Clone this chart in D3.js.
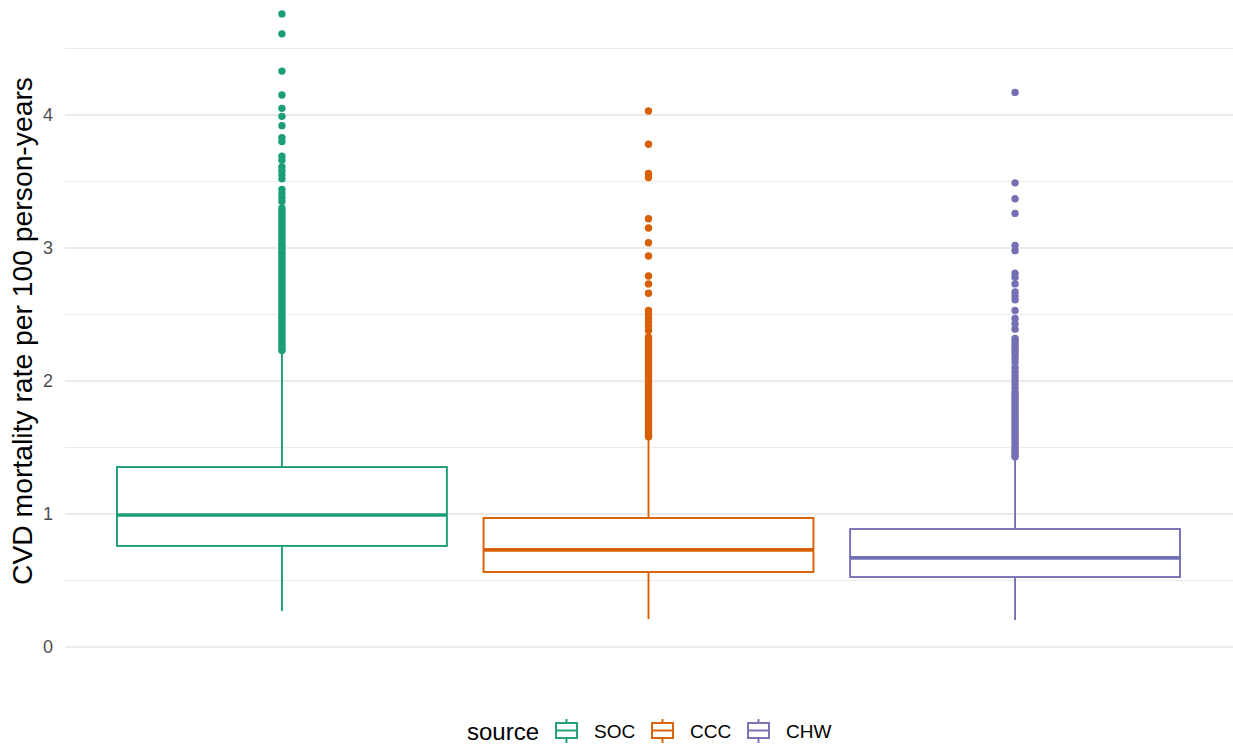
<!DOCTYPE html>
<html lang="en">
<head>
<meta charset="utf-8">
<title>CVD mortality by source</title>
<script src="https://cdn.jsdelivr.net/npm/d3@7"></script>
<style>
  body { margin: 0; background: #fff; }
  svg text { font-family: "Liberation Sans", Arial, sans-serif; }
</style>
</head>
<body>
<svg id="chart" width="1233" height="751"></svg>
<script>
// categories and box stats
var categories = ["SOC", "CCC", "CHW"];
var colors = ["#1B9E77", "#D95F02", "#7570B3"];
var whiskerLow = [0.27, 0.21, 0.203];
var q1 = [0.76, 0.564, 0.526];
var median = [0.992, 0.73, 0.67];
var q3 = [1.353, 0.97, 0.887];
var whiskerHigh = [2.23, 1.58, 1.43];
var yTicks = [0, 1, 2, 3, 4];
var yMinor = [0.5, 1.5, 2.5, 3.5, 4.5];

// outliers per source
var outSOC = [4.76, 4.61, 4.33, 4.15, 4.05, 3.99, 3.92, 3.83, 3.80, 3.69, 3.66, 3.61, 3.58, 3.55, 3.52,
  3.44, 3.41, 3.38, 3.35, 3.30, 3.28, 3.26, 3.24, 3.22, 3.20, 3.18, 3.16, 3.14, 3.12, 3.10, 3.08, 3.06,
  3.04, 3.02, 3.00, 2.98, 2.96, 2.94, 2.92, 2.90, 2.88, 2.86, 2.84, 2.82, 2.80, 2.78, 2.76, 2.74, 2.72,
  2.70, 2.68, 2.66, 2.64, 2.62, 2.60, 2.58, 2.56, 2.54, 2.52, 2.50, 2.48, 2.46, 2.44, 2.42, 2.40, 2.38,
  2.36, 2.34, 2.32, 2.30, 2.28, 2.26, 2.24, 2.23];
var outCCC = [4.03, 3.78, 3.56, 3.53, 3.22, 3.15, 3.04, 2.94, 2.79, 2.73, 2.66, 2.53, 2.50, 2.47, 2.44,
  2.41, 2.38, 2.33, 2.31, 2.29, 2.27, 2.25, 2.23, 2.21, 2.19, 2.17, 2.15, 2.13, 2.11, 2.09, 2.07, 2.05,
  2.03, 2.01, 1.99, 1.97, 1.95, 1.93, 1.91, 1.89, 1.87, 1.85, 1.83, 1.81, 1.79, 1.77, 1.75, 1.73, 1.71,
  1.69, 1.67, 1.65, 1.63, 1.61, 1.59, 1.58];
var outCHW = [4.17, 3.49, 3.37, 3.26, 3.02, 2.98, 2.81, 2.78, 2.73, 2.67, 2.64, 2.61, 2.53, 2.47, 2.43,
  2.39, 2.32, 2.30, 2.28, 2.26, 2.24, 2.22, 2.20, 2.17, 2.14, 2.10, 2.07, 2.04, 2.01, 1.98, 1.95, 1.92,
  1.90, 1.88, 1.86, 1.84, 1.82, 1.80, 1.78, 1.76, 1.74, 1.72, 1.70, 1.68, 1.66, 1.64, 1.62, 1.60, 1.58,
  1.56, 1.54, 1.52, 1.50, 1.48, 1.46, 1.44, 1.43];
var outliers = [outSOC, outCCC, outCHW];

var svg = d3.select("#chart");

var x = d3.scalePoint().domain(categories).range([62, 1235]).padding(0.6);
var y = d3.scaleLinear().domain([0, 4]).range([647, 115]);
var boxW = x.step() * 0.9;
var lw = 1.9;

/** grid lines */
var grid = svg.append("g");
grid.selectAll(".minor").data(yMinor).enter().append("line")
  .attr("x1", 65).attr("x2", 1233)
  .attr("y1", function(d) { return y(d); }).attr("y2", function(d) { return y(d); })
  .attr("stroke", "#ebebeb").attr("stroke-width", 1);
grid.selectAll(".major").data(yTicks).enter().append("line")
  .attr("x1", 65).attr("x2", 1233)
  .attr("y1", function(d) { return y(d); }).attr("y2", function(d) { return y(d); })
  .attr("stroke", "#ebebeb").attr("stroke-width", 2);

/** y axis */
var yAxis = svg.append("g")
  .attr("transform", "translate(59,0)")
  .call(d3.axisLeft(y).tickValues(yTicks).tickSize(0).tickPadding(6).tickFormat(d3.format("d")));
yAxis.select(".domain").remove();
yAxis.selectAll("text").attr("fill", "#4d4d4d").style("font-size", "18px");

svg.append("text")
  .attr("transform", "translate(32,331) rotate(-90)")
  .attr("text-anchor", "middle")
  .style("font-size", "28.3px")
  .attr("fill", "#000")
  .text("CVD mortality rate per 100 person-years");

/** boxes */
var boxes = svg.selectAll(".box").data(categories).enter().append("g");

boxes.append("line")
  .attr("x1", function(d) { return x(d); }).attr("x2", function(d) { return x(d); })
  .attr("y1", function(d, i) { return y(whiskerHigh[i]); })
  .attr("y2", function(d, i) { return y(q3[i]); })
  .attr("stroke", function(d, i) { return colors[i]; }).attr("stroke-width", lw);
boxes.append("line")
  .attr("x1", function(d) { return x(d); }).attr("x2", function(d) { return x(d); })
  .attr("y1", function(d, i) { return y(q1[i]); })
  .attr("y2", function(d, i) { return y(whiskerLow[i]); })
  .attr("stroke", function(d, i) { return colors[i]; }).attr("stroke-width", lw);
boxes.append("rect")
  .attr("x", function(d) { return x(d) - boxW / 2; })
  .attr("width", boxW)
  .attr("y", function(d, i) { return y(q3[i]); })
  .attr("height", function(d, i) { return y(q1[i]) - y(q3[i]); })
  .attr("fill", "#fff")
  .attr("stroke", function(d, i) { return colors[i]; }).attr("stroke-width", lw);
boxes.append("line")
  .attr("x1", function(d) { return x(d) - boxW / 2; }).attr("x2", function(d) { return x(d) + boxW / 2; })
  .attr("y1", function(d, i) { return y(median[i]); })
  .attr("y2", function(d, i) { return y(median[i]); })
  .attr("stroke", function(d, i) { return colors[i]; }).attr("stroke-width", 3.6);

/** outlier points */
boxes.each(function(d, i) {
  d3.select(this).selectAll("circle").data(outliers[i]).enter().append("circle")
    .attr("cx", x(d))
    .attr("cy", function(v) { return y(v); })
    .attr("r", 3.7)
    .attr("fill", colors[i]);
});

/** legend */
var legend = svg.append("g");
legend.append("text")
  .attr("x", 467).attr("y", 740)
  .style("font-size", "24px")
  .text("source");
var keyX = [555, 651, 747];
var keys = legend.selectAll(".key").data(categories).enter().append("g")
  .attr("transform", function(d, i) { return "translate(" + keyX[i] + ",0)"; });
keys.append("line")
  .attr("x1", 11.5).attr("x2", 11.5).attr("y1", 719).attr("y2", 743)
  .attr("stroke", function(d, i) { return colors[i]; }).attr("stroke-width", lw);
keys.append("rect")
  .attr("x", 1).attr("y", 723).attr("width", 21).attr("height", 15)
  .attr("fill", "#fff")
  .attr("stroke", function(d, i) { return colors[i]; }).attr("stroke-width", lw);
keys.append("line")
  .attr("x1", 1).attr("x2", 22).attr("y1", 730.5).attr("y2", 730.5)
  .attr("stroke", function(d, i) { return colors[i]; }).attr("stroke-width", lw);
keys.append("text")
  .attr("x", 39).attr("y", 738)
  .style("font-size", "19px")
  .text(function(d) { return d; });
</script>
</body>
</html>
